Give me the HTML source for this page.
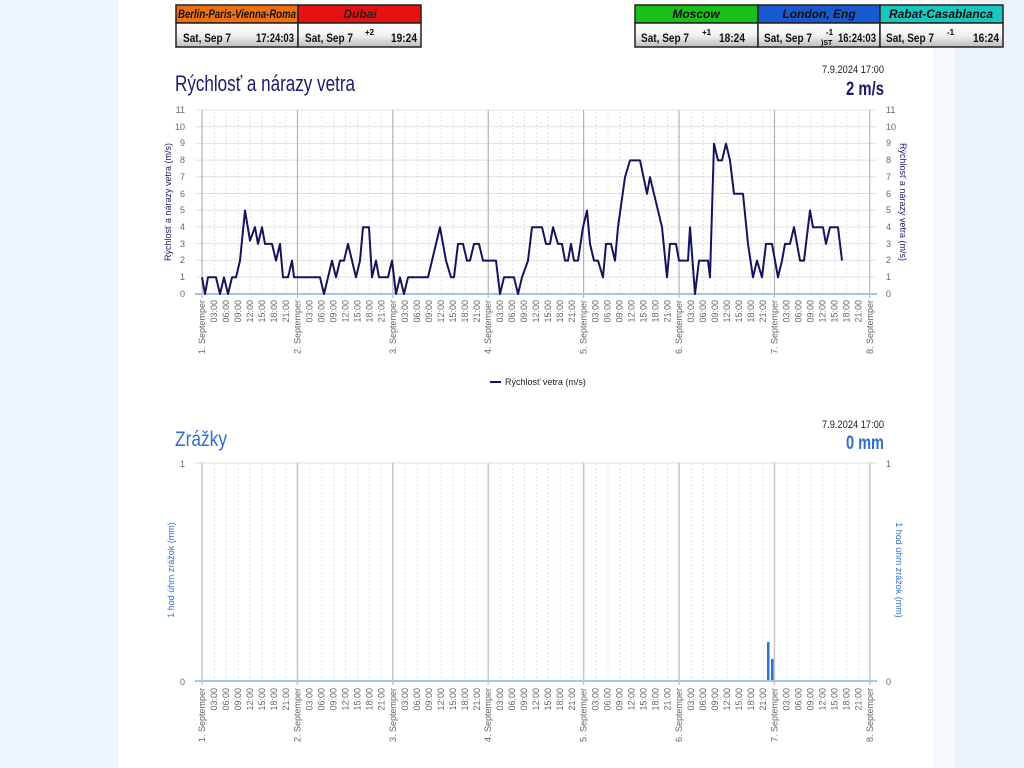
<!DOCTYPE html>
<html><head><meta charset="utf-8"><style>
html,body{margin:0;padding:0;width:1024px;height:768px;overflow:hidden;background:#fff}
svg{display:block}
text{font-family:"Liberation Sans",sans-serif}
.t{font-size:9px;fill:#666;text-anchor:end}
.yl{font-size:9px;fill:#666}
.hb{font-size:12px;font-weight:bold;font-style:italic;text-anchor:middle}
.hd{font-size:12px;font-weight:bold;fill:#111}
</style></head><body>
<svg width="1024" height="768" viewBox="0 0 1024 768" xmlns="http://www.w3.org/2000/svg">
<defs>
<linearGradient id="g" x1="0" y1="0" x2="0" y2="1"><stop offset="0" stop-color="#ffffff"/><stop offset="0.5" stop-color="#f2f2f2"/><stop offset="1" stop-color="#bdbdbd"/></linearGradient>
<pattern id="vd" width="11.925" height="4" patternUnits="userSpaceOnUse" x="202"><rect x="0" y="0" width="1" height="2" fill="#e2e2e2"/></pattern>
</defs>
<rect x="0" y="0" width="118" height="768" fill="#eef4fc"/>
<rect x="933" y="0" width="22" height="768" fill="#f5f9fe"/>
<rect x="955" y="0" width="69" height="768" fill="#ebf2fc"/>

<!-- header boxes -->
<g stroke="#222" stroke-width="1.5">
<rect x="176" y="5" width="122" height="18" fill="#f07010"/>
<rect x="298" y="5" width="123" height="18" fill="#e81010"/>
<rect x="635" y="5" width="123" height="18" fill="#18c018"/>
<rect x="758" y="5" width="122" height="18" fill="#1858d0"/>
<rect x="880" y="5" width="123" height="18" fill="#18c8c0"/>
<rect x="176" y="23" width="122" height="24" fill="url(#g)"/>
<rect x="298" y="23" width="123" height="24" fill="url(#g)"/>
<rect x="635" y="23" width="123" height="24" fill="url(#g)"/>
<rect x="758" y="23" width="122" height="24" fill="url(#g)"/>
<rect x="880" y="23" width="123" height="24" fill="url(#g)"/>
</g>
<text class="hb" x="237" y="18" fill="#111" textLength="118" lengthAdjust="spacingAndGlyphs">Berlin-Paris-Vienna-Roma</text>
<text class="hb" x="360" y="18" fill="#222">Dubai</text>
<text class="hb" x="696" y="18" fill="#111">Moscow</text>
<text class="hb" x="819" y="18" fill="#111">London, Eng</text>
<text class="hb" x="941" y="18" fill="#111">Rabat-Casablanca</text>
<text class="hd" x="183" y="42" textLength="48" lengthAdjust="spacingAndGlyphs">Sat, Sep 7</text><text class="hd" x="294" y="42" text-anchor="end" textLength="38" lengthAdjust="spacingAndGlyphs">17:24:03</text>
<text class="hd" x="305" y="42" textLength="48" lengthAdjust="spacingAndGlyphs">Sat, Sep 7</text><text class="hd" x="417" y="42" text-anchor="end" textLength="26" lengthAdjust="spacingAndGlyphs">19:24</text><text x="365" y="35" font-size="8" font-weight="bold">+2</text>
<text class="hd" x="641" y="42" textLength="48" lengthAdjust="spacingAndGlyphs">Sat, Sep 7</text><text class="hd" x="745" y="42" text-anchor="end" textLength="26" lengthAdjust="spacingAndGlyphs">18:24</text><text x="702" y="35" font-size="8" font-weight="bold">+1</text>
<text class="hd" x="764" y="42" textLength="48" lengthAdjust="spacingAndGlyphs">Sat, Sep 7</text><text class="hd" x="876" y="42" text-anchor="end" textLength="38" lengthAdjust="spacingAndGlyphs">16:24:03</text><text x="826" y="35" font-size="8" font-weight="bold">-1</text><text x="821" y="45" font-size="7" font-weight="bold">)ST</text>
<text class="hd" x="886" y="42" textLength="48" lengthAdjust="spacingAndGlyphs">Sat, Sep 7</text><text class="hd" x="999" y="42" text-anchor="end" textLength="26" lengthAdjust="spacingAndGlyphs">16:24</text><text x="947" y="35" font-size="8" font-weight="bold">-1</text>

<!-- Chart 1 -->
<text x="175" y="91" font-size="22" fill="#1b1b6b" textLength="180" lengthAdjust="spacingAndGlyphs">Rýchlosť a nárazy vetra</text>
<text x="884" y="73" font-size="11" fill="#222" text-anchor="end" textLength="62" lengthAdjust="spacingAndGlyphs">7.9.2024 17:00</text>
<text x="884" y="95" font-size="19" font-weight="bold" fill="#1b1b6b" text-anchor="end" textLength="38" lengthAdjust="spacingAndGlyphs">2 m/s</text>

<rect x="202" y="110" width="668" height="184" fill="url(#vd)"/>
<g stroke="#e0e0e0" stroke-width="1">
<line x1="195" x2="877" y1="110" y2="110"/><line x1="195" x2="877" y1="126.7" y2="126.7"/><line x1="195" x2="877" y1="143.4" y2="143.4"/><line x1="195" x2="877" y1="160.1" y2="160.1"/><line x1="195" x2="877" y1="176.8" y2="176.8"/><line x1="195" x2="877" y1="193.5" y2="193.5"/><line x1="195" x2="877" y1="210.2" y2="210.2"/><line x1="195" x2="877" y1="226.9" y2="226.9"/><line x1="195" x2="877" y1="243.6" y2="243.6"/><line x1="195" x2="877" y1="260.3" y2="260.3"/><line x1="195" x2="877" y1="277" y2="277"/>
</g>
<g stroke="#aaa" stroke-width="1">
<line x1="202" x2="202" y1="110" y2="298"/><line x1="297.4" x2="297.4" y1="110" y2="298"/><line x1="392.8" x2="392.8" y1="110" y2="298"/><line x1="488.2" x2="488.2" y1="110" y2="298"/><line x1="583.6" x2="583.6" y1="110" y2="298"/><line x1="679" x2="679" y1="110" y2="298"/><line x1="774.4" x2="774.4" y1="110" y2="298"/><line x1="869.8" x2="869.8" y1="110" y2="298"/>
</g>
<line x1="195" x2="877" y1="294" y2="294" stroke="#a8c4ea" stroke-width="2"/>
<g class="yl" text-anchor="end">
<text x="185" y="297">0</text><text x="185" y="280">1</text><text x="185" y="263">2</text><text x="185" y="247">3</text><text x="185" y="230">4</text><text x="185" y="213">5</text><text x="185" y="197">6</text><text x="185" y="180">7</text><text x="185" y="163">8</text><text x="185" y="146">9</text><text x="185" y="130">10</text><text x="185" y="113">11</text>
</g>
<g class="yl">
<text x="886" y="297">0</text><text x="886" y="280">1</text><text x="886" y="263">2</text><text x="886" y="247">3</text><text x="886" y="230">4</text><text x="886" y="213">5</text><text x="886" y="197">6</text><text x="886" y="180">7</text><text x="886" y="163">8</text><text x="886" y="146">9</text><text x="886" y="130">10</text><text x="886" y="113">11</text>
</g>
<text transform="translate(171,202) rotate(-90)" font-size="9" fill="#1b1b6b" text-anchor="middle">Rýchlosť a nárazy vetra (m/s)</text>
<text transform="translate(900,202) rotate(90)" font-size="9" fill="#1b1b6b" text-anchor="middle">Rýchlosť a nárazy vetra (m/s)</text>

<polyline fill="none" stroke="#14145e" stroke-width="2" stroke-linejoin="round" points="202,277.3 205,294 208,277.3 216,277.3 220,294 224,277.3 228,294 232,277.3 236,277.3 240,260.6 245,210.5 250,240.6 255,227.2 258,243.9 262,227.2 265,243.9 272,243.9 276,260.6 280,243.9 283,277.3 288,277.3 292,260.6 294,277.3 320,277.3 324,294 328,277.3 332,260.6 336,277.3 340,260.6 344,260.6 348,243.9 352,260.6 356,277.3 360,260.6 363,227.2 369,227.2 372,277.3 376,260.6 379,277.3 388,277.3 392,260.6 396,294 400,277.3 404,294 408,277.3 428,277.3 432,260.6 440,227.2 446,260.6 451,277.3 454,277.3 458,243.9 463,243.9 467,260.6 470,260.6 474,243.9 479,243.9 483,260.6 496,260.6 500,294 504,277.3 514,277.3 518,294 522,277.3 528,260.6 532,227.2 542,227.2 546,243.9 550,243.9 553,227.2 558,243.9 562,243.9 565,260.6 568,260.6 571,243.9 574,260.6 578,260.6 583,227.2 587,210.5 590,243.9 594,260.6 598,260.6 603,277.3 606,243.9 611,243.9 615,260.6 618,227.2 625,177.1 630,160.4 640,160.4 647,193.8 650,177.1 654,193.8 662,227.2 667,277.3 670,243.9 676,243.9 679,260.6 688,260.6 690,227.2 695,294 699,260.6 708,260.6 710,277.3 714,143.7 718,160.4 722,160.4 726,143.7 730,160.4 734,193.8 743,193.8 748,243.9 753,277.3 757,260.6 762,277.3 766,243.9 772,243.9 778,277.3 782,260.6 785,243.9 790,243.9 794,227.2 797,243.9 800,260.6 804,260.6 810,210.5 813,227.2 823,227.2 826,243.9 830,227.2 838,227.2 842,260.6"/>

<g class="t">
<g transform="translate(202,0)"><text transform="translate(3,300) rotate(-90)">1. Septemper</text><text transform="translate(15,300) rotate(-90)">03:00</text><text transform="translate(27,300) rotate(-90)">06:00</text><text transform="translate(39,300) rotate(-90)">09:00</text><text transform="translate(51,300) rotate(-90)">12:00</text><text transform="translate(63,300) rotate(-90)">15:00</text><text transform="translate(75,300) rotate(-90)">18:00</text><text transform="translate(87,300) rotate(-90)">21:00</text></g>
<g transform="translate(297.4,0)"><text transform="translate(3,300) rotate(-90)">2. Septemper</text><text transform="translate(15,300) rotate(-90)">03:00</text><text transform="translate(27,300) rotate(-90)">06:00</text><text transform="translate(39,300) rotate(-90)">09:00</text><text transform="translate(51,300) rotate(-90)">12:00</text><text transform="translate(63,300) rotate(-90)">15:00</text><text transform="translate(75,300) rotate(-90)">18:00</text><text transform="translate(87,300) rotate(-90)">21:00</text></g>
<g transform="translate(392.8,0)"><text transform="translate(3,300) rotate(-90)">3. Septemper</text><text transform="translate(15,300) rotate(-90)">03:00</text><text transform="translate(27,300) rotate(-90)">06:00</text><text transform="translate(39,300) rotate(-90)">09:00</text><text transform="translate(51,300) rotate(-90)">12:00</text><text transform="translate(63,300) rotate(-90)">15:00</text><text transform="translate(75,300) rotate(-90)">18:00</text><text transform="translate(87,300) rotate(-90)">21:00</text></g>
<g transform="translate(488.2,0)"><text transform="translate(3,300) rotate(-90)">4. Septemper</text><text transform="translate(15,300) rotate(-90)">03:00</text><text transform="translate(27,300) rotate(-90)">06:00</text><text transform="translate(39,300) rotate(-90)">09:00</text><text transform="translate(51,300) rotate(-90)">12:00</text><text transform="translate(63,300) rotate(-90)">15:00</text><text transform="translate(75,300) rotate(-90)">18:00</text><text transform="translate(87,300) rotate(-90)">21:00</text></g>
<g transform="translate(583.6,0)"><text transform="translate(3,300) rotate(-90)">5. Septemper</text><text transform="translate(15,300) rotate(-90)">03:00</text><text transform="translate(27,300) rotate(-90)">06:00</text><text transform="translate(39,300) rotate(-90)">09:00</text><text transform="translate(51,300) rotate(-90)">12:00</text><text transform="translate(63,300) rotate(-90)">15:00</text><text transform="translate(75,300) rotate(-90)">18:00</text><text transform="translate(87,300) rotate(-90)">21:00</text></g>
<g transform="translate(679,0)"><text transform="translate(3,300) rotate(-90)">6. Septemper</text><text transform="translate(15,300) rotate(-90)">03:00</text><text transform="translate(27,300) rotate(-90)">06:00</text><text transform="translate(39,300) rotate(-90)">09:00</text><text transform="translate(51,300) rotate(-90)">12:00</text><text transform="translate(63,300) rotate(-90)">15:00</text><text transform="translate(75,300) rotate(-90)">18:00</text><text transform="translate(87,300) rotate(-90)">21:00</text></g>
<g transform="translate(774.4,0)"><text transform="translate(3,300) rotate(-90)">7. Septemper</text><text transform="translate(15,300) rotate(-90)">03:00</text><text transform="translate(27,300) rotate(-90)">06:00</text><text transform="translate(39,300) rotate(-90)">09:00</text><text transform="translate(51,300) rotate(-90)">12:00</text><text transform="translate(63,300) rotate(-90)">15:00</text><text transform="translate(75,300) rotate(-90)">18:00</text><text transform="translate(87,300) rotate(-90)">21:00</text></g>
<g transform="translate(869.8,0)"><text transform="translate(3,300) rotate(-90)">8. Septemper</text></g>
</g>
<line x1="490" x2="501" y1="382" y2="382" stroke="#14145e" stroke-width="2"/>
<text x="505" y="385" font-size="9" fill="#222">Rýchlosť vetra (m/s)</text>

<!-- Chart 2 -->
<text x="175" y="446" font-size="21" fill="#2f6fd0" textLength="52" lengthAdjust="spacingAndGlyphs">Zrážky</text>
<text x="884" y="428" font-size="11" fill="#222" text-anchor="end" textLength="62" lengthAdjust="spacingAndGlyphs">7.9.2024 17:00</text>
<text x="884" y="449" font-size="19" font-weight="bold" fill="#2f6fd0" text-anchor="end" textLength="38" lengthAdjust="spacingAndGlyphs">0 mm</text>

<rect x="202" y="463" width="668" height="218" fill="url(#vd)"/>
<line x1="195" x2="877" y1="463" y2="463" stroke="#ddd"/>
<g stroke="#c8c8c8" stroke-width="1.5">
<line x1="202" x2="202" y1="463" y2="685"/><line x1="297.4" x2="297.4" y1="463" y2="685"/><line x1="392.8" x2="392.8" y1="463" y2="685"/><line x1="488.2" x2="488.2" y1="463" y2="685"/><line x1="583.6" x2="583.6" y1="463" y2="685"/><line x1="679" x2="679" y1="463" y2="685"/><line x1="774.4" x2="774.4" y1="463" y2="685"/><line x1="869.8" x2="869.8" y1="463" y2="685"/>
</g>
<rect x="767" y="642" width="2.5" height="39" fill="#2f6fd0"/>
<rect x="771" y="659" width="2.5" height="22" fill="#2f6fd0"/>
<line x1="195" x2="877" y1="681" y2="681" stroke="#a8c4ea" stroke-width="2"/>
<text class="yl" x="185" y="467" text-anchor="end">1</text><text class="yl" x="185" y="685" text-anchor="end">0</text>
<text class="yl" x="886" y="467">1</text><text class="yl" x="886" y="685">0</text>
<text transform="translate(174,570) rotate(-90)" font-size="9" fill="#2f6fd0" text-anchor="middle">1 hod úhrn zrážok (mm)</text>
<text transform="translate(896,570) rotate(90)" font-size="9" fill="#2f6fd0" text-anchor="middle">1 hod úhrn zrážok (mm)</text>

<g class="t">
<g transform="translate(202,0)"><text transform="translate(3,688) rotate(-90)">1. Septemper</text><text transform="translate(15,688) rotate(-90)">03:00</text><text transform="translate(27,688) rotate(-90)">06:00</text><text transform="translate(39,688) rotate(-90)">09:00</text><text transform="translate(51,688) rotate(-90)">12:00</text><text transform="translate(63,688) rotate(-90)">15:00</text><text transform="translate(75,688) rotate(-90)">18:00</text><text transform="translate(87,688) rotate(-90)">21:00</text></g>
<g transform="translate(297.4,0)"><text transform="translate(3,688) rotate(-90)">2. Septemper</text><text transform="translate(15,688) rotate(-90)">03:00</text><text transform="translate(27,688) rotate(-90)">06:00</text><text transform="translate(39,688) rotate(-90)">09:00</text><text transform="translate(51,688) rotate(-90)">12:00</text><text transform="translate(63,688) rotate(-90)">15:00</text><text transform="translate(75,688) rotate(-90)">18:00</text><text transform="translate(87,688) rotate(-90)">21:00</text></g>
<g transform="translate(392.8,0)"><text transform="translate(3,688) rotate(-90)">3. Septemper</text><text transform="translate(15,688) rotate(-90)">03:00</text><text transform="translate(27,688) rotate(-90)">06:00</text><text transform="translate(39,688) rotate(-90)">09:00</text><text transform="translate(51,688) rotate(-90)">12:00</text><text transform="translate(63,688) rotate(-90)">15:00</text><text transform="translate(75,688) rotate(-90)">18:00</text><text transform="translate(87,688) rotate(-90)">21:00</text></g>
<g transform="translate(488.2,0)"><text transform="translate(3,688) rotate(-90)">4. Septemper</text><text transform="translate(15,688) rotate(-90)">03:00</text><text transform="translate(27,688) rotate(-90)">06:00</text><text transform="translate(39,688) rotate(-90)">09:00</text><text transform="translate(51,688) rotate(-90)">12:00</text><text transform="translate(63,688) rotate(-90)">15:00</text><text transform="translate(75,688) rotate(-90)">18:00</text><text transform="translate(87,688) rotate(-90)">21:00</text></g>
<g transform="translate(583.6,0)"><text transform="translate(3,688) rotate(-90)">5. Septemper</text><text transform="translate(15,688) rotate(-90)">03:00</text><text transform="translate(27,688) rotate(-90)">06:00</text><text transform="translate(39,688) rotate(-90)">09:00</text><text transform="translate(51,688) rotate(-90)">12:00</text><text transform="translate(63,688) rotate(-90)">15:00</text><text transform="translate(75,688) rotate(-90)">18:00</text><text transform="translate(87,688) rotate(-90)">21:00</text></g>
<g transform="translate(679,0)"><text transform="translate(3,688) rotate(-90)">6. Septemper</text><text transform="translate(15,688) rotate(-90)">03:00</text><text transform="translate(27,688) rotate(-90)">06:00</text><text transform="translate(39,688) rotate(-90)">09:00</text><text transform="translate(51,688) rotate(-90)">12:00</text><text transform="translate(63,688) rotate(-90)">15:00</text><text transform="translate(75,688) rotate(-90)">18:00</text><text transform="translate(87,688) rotate(-90)">21:00</text></g>
<g transform="translate(774.4,0)"><text transform="translate(3,688) rotate(-90)">7. Septemper</text><text transform="translate(15,688) rotate(-90)">03:00</text><text transform="translate(27,688) rotate(-90)">06:00</text><text transform="translate(39,688) rotate(-90)">09:00</text><text transform="translate(51,688) rotate(-90)">12:00</text><text transform="translate(63,688) rotate(-90)">15:00</text><text transform="translate(75,688) rotate(-90)">18:00</text><text transform="translate(87,688) rotate(-90)">21:00</text></g>
<g transform="translate(869.8,0)"><text transform="translate(3,688) rotate(-90)">8. Septemper</text></g>
</g>
</svg>
</body></html>
